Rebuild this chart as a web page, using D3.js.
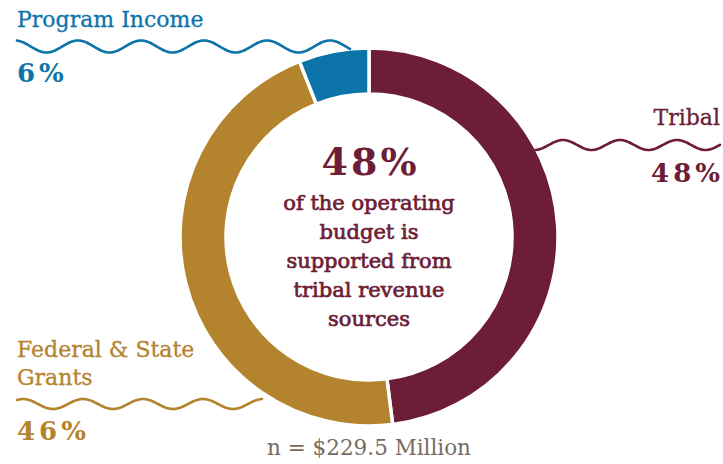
<!DOCTYPE html>
<html>
<head>
<meta charset="utf-8">
<script src="https://cdn.jsdelivr.net/npm/d3@7"></script>
<style>
  html, body { margin: 0; padding: 0; background: #ffffff; }
  svg { display: block; }
  text { font-family: "DejaVu Serif", "Liberation Serif", serif; }
</style>
</head>
<body>
<svg id="chart" width="723" height="464"></svg>
<script>
// Operating budget by revenue source (percent of total), clockwise from 12 o'clock
const categories = ["Tribal", "Federal & State Grants", "Program Income"];
const shares = [48, 46, 6];
const shareLabels = ["48%", "46%", "6%"];
const colours = ["#6d1e36", "#b4832e", "#0c74a8"];
const centreHeadline = "48%";
const centreLines = ["of the operating", "budget is", "supported from", "tribal revenue", "sources"];
const totalNote = "n = $229.5 Million";

const svg = d3.select("#chart");
const cx = 369, cy = 237, outerR = 189, innerR = 143;

const colour = d3.scaleOrdinal().domain(categories).range(colours);

const pie = d3.pie().sort(null).value(d => d.value);
const arc = d3.arc().innerRadius(innerR).outerRadius(outerR);
const data = categories.map((c, i) => ({ name: c, value: shares[i], label: shareLabels[i] }));

const ring = svg.append("g").attr("transform", `translate(${cx},${cy})`);
ring.selectAll("path")
  .data(pie(data))
  .join("path")
  .attr("d", arc)
  .attr("fill", d => colour(d.data.name))
  .attr("stroke", "#ffffff")
  .attr("stroke-width", 3.5)
  .attr("stroke-linejoin", "miter");

// Wavy leader line between two x positions
function wave(x0, x1, yc, amp, period, crestAt) {
  const pts = d3.range(x0, x1 + 0.5, 1).map(x => [x, yc - amp * Math.cos(2 * Math.PI * (x - crestAt) / period)]);
  return d3.line().curve(d3.curveBasis)(pts);
}

// Spaced-out text without trailing space after the last glyph
function spaced(sel, str, gap) {
  [...str].forEach((ch, i) => sel.append("tspan").attr("dx", i ? gap : 0).text(ch));
}

const callouts = [
  { name: "Program Income", lines: ["Program Income"], lineY: [27], anchor: "start", x: 17,
    valueY: 82, wave: [17, 350, 46.5, 6, 63, 15] },
  { name: "Tribal", lines: ["Tribal"], lineY: [125], anchor: "end", x: 720,
    valueY: 182, wave: [535, 720, 145, 5, 57, 563] },
  { name: "Federal & State Grants", lines: ["Federal & State", "Grants"], lineY: [357, 385], anchor: "start", x: 17,
    valueY: 440, wave: [17, 262, 404, 5, 60, 23] }
];

callouts.forEach(c => {
  const col = colour(c.name);
  const d = data.find(e => e.name === c.name);
  const g = svg.append("g");
  g.append("path")
    .attr("d", wave(...c.wave))
    .attr("fill", "none")
    .attr("stroke", col)
    .attr("stroke-width", 2.6)
    .attr("stroke-linecap", "round");
  c.lines.forEach((t, i) => {
    g.append("text")
      .attr("x", c.x).attr("y", c.lineY[i])
      .attr("text-anchor", c.anchor)
      .attr("fill", col)
      .attr("font-size", 22)
      .attr("stroke", col)
      .attr("stroke-width", 0.3)
      .text(t);
  });
  const v = g.append("text")
    .attr("x", c.x).attr("y", c.valueY)
    .attr("text-anchor", c.anchor)
    .attr("fill", col)
    .attr("font-size", 26)
    .attr("font-weight", 700);
  spaced(v, d.label, 4);
});

// Centre statement
const centre = svg.append("g").attr("fill", colour("Tribal")).attr("text-anchor", "middle");
const head = centre.append("text")
  .attr("x", cx).attr("y", 175)
  .attr("font-size", 38)
  .attr("font-weight", 700);
spaced(head, centreHeadline, 3);
centreLines.forEach((t, i) => {
  centre.append("text")
    .attr("x", cx).attr("y", 210 + i * 29)
    .attr("font-size", 21)
    .attr("stroke", colour("Tribal"))
    .attr("stroke-width", 0.7)
    .text(t);
});

svg.append("text")
  .attr("x", 369).attr("y", 455)
  .attr("text-anchor", "middle")
  .attr("fill", "#786c62")
  .attr("font-size", 21.5)
  .text(totalNote);
</script>
</body>
</html>
